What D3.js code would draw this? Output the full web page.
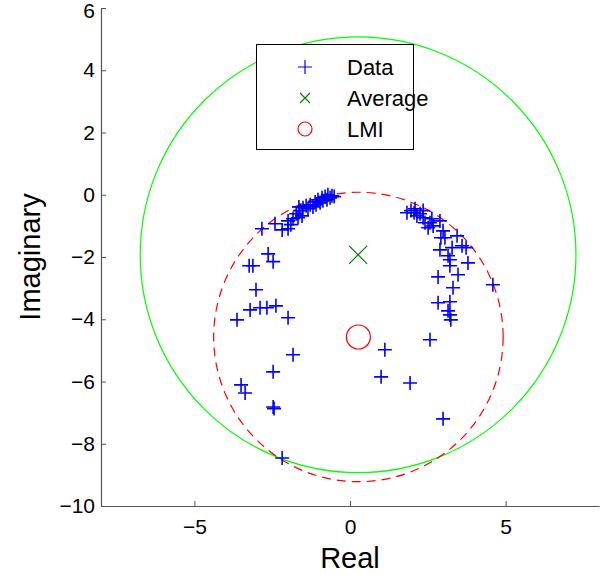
<!DOCTYPE html>
<html><head><meta charset="utf-8">
<script src="https://cdn.jsdelivr.net/npm/d3@7"></script>
<style>body{margin:0;background:#fff}svg{display:block}text{font-family:"Liberation Sans",Arial,sans-serif}</style>
</head><body><svg id="c" width="601" height="575"></svg>
<script>
// Data points (eigenvalues): real and imaginary parts
const dataRe = [-2.83,-2.41,-2.18,-1.99,-1.99,-1.83,-1.73,-1.61,-1.54,-1.51,-1.41,-1.28,-1.19,-1.12,-1.03,-0.96,-0.90,-0.87,-0.80,-0.74,-0.71,-0.64,-0.58,-0.51,-1.09,-1.35,-1.67,-1.90,-1.64,
  -2.63,-2.47,-3.12,-3.24,-3.02,-3.21,-2.89,-2.67,-2.38,-3.63,-1.99,-1.83,-2.47,-3.50,-3.37,-2.47,-2.44,-2.18,
  1.83,1.96,2.06,2.09,2.15,2.25,2.35,2.35,2.41,2.51,2.57,2.63,2.67,2.89,2.99,3.05,2.92,3.44,2.89,3.28,3.60,3.73,3.15,3.21,3.79,3.21,2.83,3.47,4.59,3.31,2.83,3.21,3.15,3.21,3.24,2.57,1.12,1.00,1.93,2.99];
const dataIm = [-1.09,-0.93,-1.13,-1.09,-0.84,-0.77,-0.61,-0.51,-0.68,-0.42,-0.35,-0.32,-0.39,-0.23,-0.16,-0.26,-0.10,-0.19,-0.06,-0.16,0.00,-0.10,-0.03,-0.06,-0.32,-0.45,-0.74,-0.96,-0.39,
  -1.90,-2.15,-2.28,-2.28,-3.05,-3.70,-3.63,-3.63,-3.57,-4.02,-3.95,-5.14,-5.69,-6.11,-6.37,-6.82,-6.87,-8.46,
  -0.58,-0.51,-0.58,-0.45,-0.68,-0.61,-0.51,-0.74,-0.90,-1.06,-0.90,-0.77,-1.00,-0.84,-1.16,-1.38,-1.38,-1.32,-1.77,-1.70,-1.64,-1.70,-1.96,-2.09,-2.19,-2.28,-2.64,-2.57,-2.89,-2.99,-3.47,-3.44,-3.73,-3.86,-4.02,-4.66,-4.98,-5.85,-6.05,-7.20];
const average = [0.26, -1.93];
const averageRadius = 7.0;
const lmi = [0.27, -4.57];
const lmiRadius = 4.65;
const xTicks = [-5, 0, 5];
const yTicks = [-10, -8, -6, -4, -2, 0, 2, 4, 6];
const legendLabels = ["Data", "Average", "LMI"];

const svg = d3.select("#c");
const x = d3.scaleLinear().domain([-8, 8]).range([101, 599]);
const y = d3.scaleLinear().domain([-10, 6]).range([506, 8]);
const fmt = d => d < 0 ? "\u2212" + Math.abs(d) : String(d);

// circles
const rpx = (cx, r) => x(cx + r) - x(cx);
svg.append("circle").attr("cx", x(average[0])).attr("cy", y(average[1])).attr("r", rpx(average[0], averageRadius))
  .attr("fill", "none").attr("stroke", "#00ff00").attr("stroke-width", 1.2);
svg.append("circle").attr("cx", x(lmi[0])).attr("cy", y(lmi[1])).attr("r", rpx(lmi[0], lmiRadius))
  .attr("fill", "none").attr("stroke", "#ff0000").attr("stroke-width", 1.2).attr("stroke-dasharray", "9,6");

// data pluses
const pts = dataRe.map((r, i) => [r, dataIm[i]]);
const plus = s => `M${-s},0H${s}M0,${-s}V${s}`;
svg.append("g").selectAll("path").data(pts).join("path")
  .attr("transform", d => `translate(${x(d[0])},${y(d[1])})`)
  .attr("d", plus(7)).attr("stroke", "#0000ff").attr("stroke-width", 1.6).attr("fill", "none");

// average X
svg.append("path").attr("transform", `translate(${x(average[0])},${y(average[1])})`)
  .attr("d", "M-9,-9L9,9M-9,9L9,-9").attr("stroke", "#008000").attr("stroke-width", 1.2).attr("fill", "none");
// LMI circle marker
svg.append("circle").attr("cx", x(lmi[0])).attr("cy", y(lmi[1])).attr("r", 12)
  .attr("fill", "none").attr("stroke", "#ff0000").attr("stroke-width", 1.2);

// axes
const ax = svg.append("g").attr("transform", "translate(0,506)")
  .call(d3.axisBottom(x).tickValues(xTicks).tickFormat(fmt).tickSizeInner(-5).tickSizeOuter(0).tickPadding(13));
const ay = svg.append("g").attr("transform", "translate(101,0)")
  .call(d3.axisLeft(y).tickValues(yTicks).tickFormat(fmt).tickSizeInner(-5).tickSizeOuter(0).tickPadding(6));
[ax, ay].forEach(g => {
  g.select(".domain").attr("stroke", "#555").attr("stroke-width", 1.2);
  g.selectAll(".tick line").attr("stroke", "#555");
  g.selectAll("text").attr("font-size", 21).attr("fill", "#000").attr("font-family", "Liberation Sans, Arial, sans-serif");
});
ay.selectAll(".tick text").filter(d => d === 6).attr("dy", "0.47em");

svg.append("text").attr("x", 350).attr("y", 568).attr("text-anchor", "middle").attr("font-size", 29).text("Real");
svg.append("text").attr("transform", "translate(40,257) rotate(-90)").attr("text-anchor", "middle").attr("font-size", 29).text("Imaginary");

// legend
const lg = svg.append("g");
lg.append("rect").attr("x", 256.5).attr("y", 44.5).attr("width", 157).attr("height", 105)
  .attr("fill", "#fff").attr("stroke", "#000").attr("stroke-width", 1);
const rows = [67, 98, 129];
lg.append("path").attr("transform", `translate(305,${rows[0]})`).attr("d", plus(7)).attr("stroke", "#0000ff").attr("stroke-width", 1.2);
lg.append("path").attr("transform", `translate(305,${rows[1]})`).attr("d", "M-5,-5L5,5M-5,5L5,-5").attr("stroke", "#008000").attr("stroke-width", 1.2);
lg.append("circle").attr("cx", 305).attr("cy", rows[2]).attr("r", 7).attr("fill", "none").attr("stroke", "#ff0000").attr("stroke-width", 1.2);
lg.selectAll("text.l").data(legendLabels).join("text").attr("class", "l")
  .attr("x", 347).attr("y", (d, i) => rows[i]).attr("dy", "0.36em").attr("font-size", 22).text(d => d);
</script></body></html>
